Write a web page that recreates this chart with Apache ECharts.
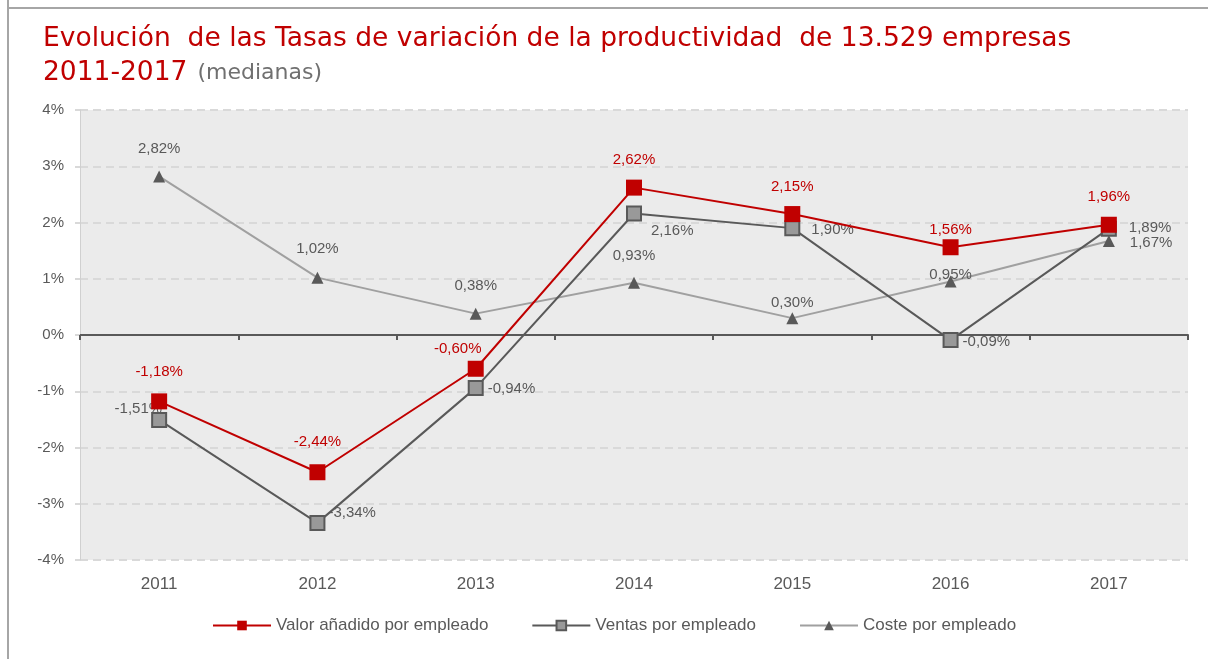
<!DOCTYPE html>
<html><head><meta charset="utf-8">
<script src="https://cdn.jsdelivr.net/npm/echarts@6/dist/echarts.min.js"></script>
<style>html,body{margin:0;padding:0;background:#fff}#c{width:1208px;height:659px}</style>
</head><body><div id="c"></div>
<script>
const categories = ['2011','2012','2013','2014','2015','2016','2017'];
const valorAnadido = [-1.18, -2.44, -0.60, 2.62, 2.15, 1.56, 1.96];
const ventas = [-1.51, -3.34, -0.94, 2.16, 1.90, -0.09, 1.89];
const coste = [2.82, 1.02, 0.38, 0.93, 0.30, 0.95, 1.67];
const seriesNames = ['Valor añadido por empleado','Ventas por empleado','Coste por empleado'];
const yTicks = [-4,-3,-2,-1,0,1,2,3,4];

const fmt = v => v.toFixed(2).replace('.', ',') + '%';
const FONT = 'Liberation Sans';
const TFONT = 'DejaVu Sans';
const GREY = '#595959';
const RED = '#c00000';

// per-point label placement
const valorLabelOff = [[0,-2],[0,-3],[-18,8],[0,0],[0,0],[0,10],[0,0]];
const ventasLabelPos = ['left','right','right','right','right','right','right'];
const ventasLabelOff = [[15,-11],[-1,-10],[0,1],[5,17],[7,2],[0,2],[8,-1]];
const costeLabelPos = ['top','top','top','top','top','top','right'];
const costeLabelOff = [[0,1],[0,0],[0,1],[0,2],[0,13],[0,22],[0,2]];

const chart = echarts.init(document.getElementById('c'), null, {renderer:'canvas'});
chart.setOption({
  animation:false,
  backgroundColor:'#fff',
  title:{
    left:38, top:17,
    text:'{a|Evolución  de las Tasas de variación de la productividad  de 13.529 empresas}\n{a|2011-2017}  {b|(medianas)}',
    textStyle:{
      fontWeight:'normal',
      rich:{
        a:{fontFamily:TFONT, fontSize:26.5, fontWeight:'normal', color:RED, lineHeight:34},
        b:{fontFamily:TFONT, fontSize:22, fontWeight:'normal', color:'#707070', lineHeight:34}
      }
    }
  },
  graphic:[
    {type:'line', shape:{x1:8,y1:0,x2:8,y2:659}, style:{stroke:'#a6a6a6', lineWidth:2}},
    {type:'line', shape:{x1:7,y1:8,x2:1208,y2:8}, style:{stroke:'#a6a6a6', lineWidth:2}}
  ],
  grid:{left:80, right:20, top:110, bottom:99, show:true, backgroundColor:'#ebebeb', borderWidth:0},
  legend:{
    left:207, top:612, itemWidth:58, itemHeight:12, itemGap:43,
    textStyle:{fontFamily:FONT, fontSize:17, color:GREY},
    data:seriesNames
  },
  xAxis:[
    {type:'category', data:categories, boundaryGap:true,
     axisLine:{show:false, onZero:false}, axisTick:{show:false},
     axisLabel:{margin:16, fontFamily:FONT, fontSize:17, color:GREY}},
    {type:'category', data:categories, boundaryGap:true, position:'bottom',
     axisLine:{show:true, onZero:true, lineStyle:{color:GREY, width:2}},
     axisTick:{show:true, interval:0, length:5, lineStyle:{color:GREY, width:2}},
     axisLabel:{show:false}}
  ],
  yAxis:{
    type:'value', min:yTicks[0], max:yTicks[yTicks.length-1], interval:1,
    axisLine:{show:true, lineStyle:{color:'#d0d0d0', width:1}},
    axisTick:{show:true, length:5, lineStyle:{color:'#d9d9d9', width:2}},
    axisLabel:{formatter:'{value}%', fontFamily:FONT, fontSize:15, color:GREY, margin:16},
    splitLine:{show:true, lineStyle:{color:'#d9d9d9', type:[8,5], width:2}}
  },
  series:[
    {name:seriesNames[0], type:'line', xAxisIndex:0, z:4,
     data:valorAnadido.map((v,i)=>({value:v, label:{offset:valorLabelOff[i]}})),
     symbol:'rect', symbolSize:16,
     lineStyle:{color:RED, width:2}, itemStyle:{color:RED},
     label:{show:true, position:'top', distance:12, formatter:p=>fmt(p.value), fontFamily:FONT, fontSize:15, color:RED}},
    {name:seriesNames[1], type:'line', xAxisIndex:0, z:3,
     data:ventas.map((v,i)=>({value:v, label:{position:ventasLabelPos[i], offset:ventasLabelOff[i]}})),
     symbol:'rect', symbolSize:14,
     lineStyle:{color:GREY, width:2}, itemStyle:{color:'#999999', borderColor:GREY, borderWidth:2},
     label:{show:true, distance:4, formatter:p=>fmt(p.value), fontFamily:FONT, fontSize:15, color:GREY}},
    {name:seriesNames[2], type:'line', xAxisIndex:0, z:2,
     data:coste.map((v,i)=>({value:v, label:{position:costeLabelPos[i], offset:costeLabelOff[i]}})),
     symbol:'triangle', symbolSize:12,
     lineStyle:{color:'#a0a0a0', width:2}, itemStyle:{color:GREY},
     label:{show:true, distance:15, formatter:p=>fmt(p.value), fontFamily:FONT, fontSize:15, color:GREY}}
  ]
});
</script></body></html>
